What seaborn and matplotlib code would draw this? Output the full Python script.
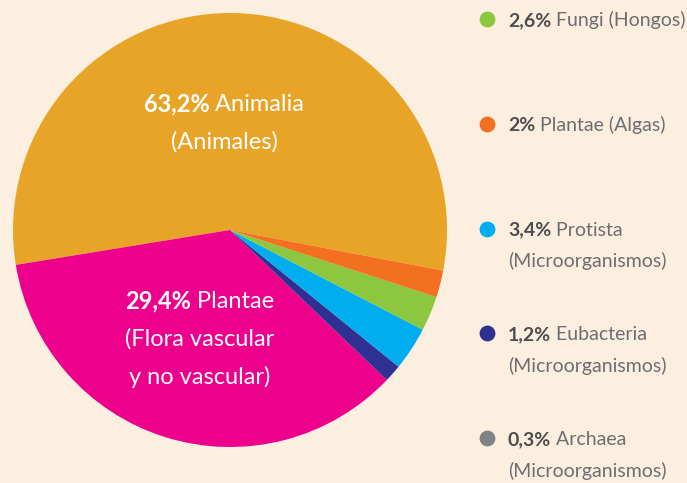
import matplotlib.pyplot as plt
import seaborn as sns

# wedge sizes as drawn in the picture (the printed labels don't sum to 100)
groups = ['Animalia', 'Plantae', 'Eubacteria', 'Protista', 'Fungi', 'Algas']
wedge_share = [55.6, 35.3, 1.3, 3.25, 2.6, 2.0]
colors = ['#E8A427', '#EC008C', '#2E3192', '#00AEEF', '#8DC63F', '#F37021']

# labels printed in the legend (right side), top to bottom
legend_pct = ['2,6%', '2%', '3,4%', '1,2%', '0,3%']
legend_name = ['Fungi (Hongos)', 'Plantae (Algas)', 'Protista', 'Eubacteria', 'Archaea']
legend_sub = ['', '', '(Microorganismos)', '(Microorganismos)', '(Microorganismos)']
legend_colors = ['#8DC63F', '#F37021', '#00AEEF', '#2E3192', '#808285']

# labels written on the two big wedges
pie_pct = ['63,2%', '29,4%']
pie_name = ['Animalia', 'Plantae']
pie_sub = [['(Animales)'], ['(Flora vascular', 'y no vascular)']]

bg = '#FCEFDF'
W, H = 687, 483

sns.set_theme(style='white')
plt.rcParams['font.family'] = ['Lato', 'DejaVu Sans']

fig = plt.figure(figsize=(W / 100, H / 100), dpi=100)
fig.patch.set_facecolor(bg)
ax = fig.add_axes([0, 0, 1, 1])
ax.set_facecolor(bg)

ax.pie(wedge_share, colors=colors, startangle=-10.8, counterclock=True,
       center=(230, H - 230), radius=217, wedgeprops=dict(linewidth=0))
ax.set_xlim(0, W)
ax.set_ylim(0, H)
ax.set_aspect('equal')
ax.axis('off')

fig.canvas.draw()
renderer = fig.canvas.get_renderer()
inv = ax.transData.inverted()


def width_of(t):
    bb = t.get_window_extent(renderer)
    return inv.transform((bb.x1, 0))[0] - inv.transform((bb.x0, 0))[0]


def two_part(x, y, bold, rest, color_b, color_r, size, center=False):
    tb = ax.text(x, y, bold, fontsize=size, fontweight='bold', color=color_b,
                 ha='left', va='baseline')
    tr = ax.text(x, y, ' ' + rest, fontsize=size, color=color_r,
                 ha='left', va='baseline')
    wb, wr = width_of(tb), width_of(tr)
    if center:
        x = x - (wb + wr) / 2
        tb.set_x(x)
    tr.set_x(x + wb)


# legend
for i, pct in enumerate(legend_pct):
    y = 19 + i * 104.75
    ax.scatter(487, H - y, s=130, color=legend_colors[i], linewidths=0)
    two_part(508, H - y - 7, pct, legend_name[i], '#4D4D4F', '#6D6E71', 14)
    if legend_sub[i]:
        ax.text(508, H - y - 39, legend_sub[i], fontsize=14,
                color='#6D6E71', ha='left', va='baseline')

# labels inside the pie
label_pos = [(224, 111), (200, 308)]
for i, (cx, cy) in enumerate(label_pos):
    two_part(cx, H - cy, pie_pct[i], pie_name[i], 'white', 'white', 17, center=True)
    for j, line in enumerate(pie_sub[i]):
        ax.text(cx, H - cy - 38 * (j + 1), line, fontsize=17,
                color='white', ha='center', va='baseline')

fig.savefig('out.png', dpi=100, facecolor=bg)
